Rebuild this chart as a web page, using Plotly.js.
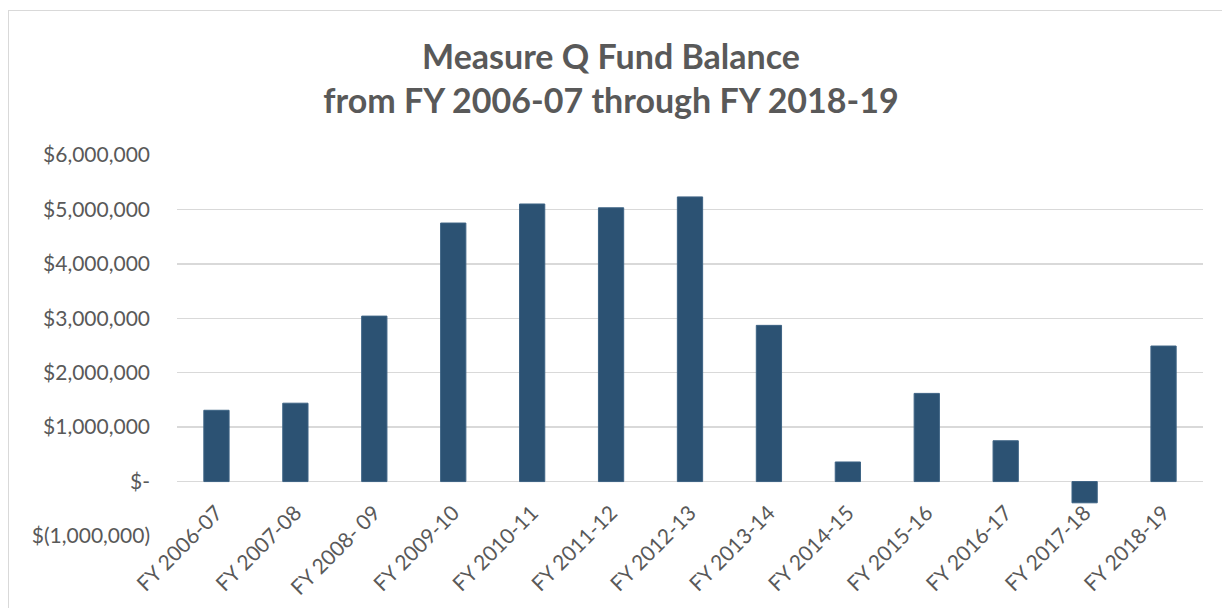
<!DOCTYPE html>
<html>
<head>
<meta charset="utf-8">
<script src="https://cdn.plot.ly/plotly-3.0.1.min.js"></script>
<style>
  html, body { margin: 0; padding: 0; background: #fff; overflow: hidden; }
  #frame { position: absolute; left: 8px; top: 10px; width: 1240px; height: 620px; border: 1px solid #d9d9d9; box-sizing: border-box; }
  #chart { position: absolute; left: 0; top: 0; width: 1222px; height: 608px; }
</style>
</head>
<body>
<div id="frame"></div>
<div id="chart"></div>
<script>
const categories = ["FY 2006-07", "FY 2007-08", "FY 2008- 09", "FY 2009-10", "FY 2010-11", "FY 2011-12", "FY 2012-13", "FY 2013-14", "FY 2014-15", "FY 2015-16", "FY 2016-17", "FY 2017-18", "FY 2018-19"];
const fundBalance = [1310000, 1440000, 3040000, 4750000, 5100000, 5030000, 5230000, 2870000, 360000, 1620000, 750000, -390000, 2490000];
const yTickVals = [-1000000, 0, 1000000, 2000000, 3000000, 4000000, 5000000, 6000000];
const yTickText = ["$(1,000,000)", "$-", "$1,000,000", "$2,000,000", "$3,000,000", "$4,000,000", "$5,000,000", "$6,000,000"];
const yRange = [-1000000, 6000000];

const fontFam = "Lato, 'Open Sans', sans-serif";
const gray = "#595959";

const trace = {
  type: "bar",
  x: categories,
  y: fundBalance,
  marker: { color: "#2c5273", line: { color: "#3d6384", width: 1 } },
  hoverinfo: "x+y"
};

const layout = {
  width: 1222,
  height: 608,
  paper_bgcolor: "rgba(0,0,0,0)",
  plot_bgcolor: "rgba(0,0,0,0)",
  margin: { l: 177, r: 19, t: 155, b: 72 },
  showlegend: false,
  bargap: 0.68,
  title: {
    text: "<b>Measure Q Fund Balance<br>from FY 2006-07 through FY 2018-19</b>",
    font: { family: fontFam, size: 34, color: gray },
    x: 0.5, xanchor: "center", xref: "container",
    y: 1 - 69 / 608, yanchor: "middle", yref: "container"
  },
  xaxis: {
    type: "category",
    tickangle: -45,
    showgrid: false,
    showline: false,
    zeroline: false,
    ticks: "",
    anchor: "free",
    position: (0 - yRange[0]) / (yRange[1] - yRange[0]),
    ticklabelstandoff: 14,
    tickfont: { family: fontFam, size: 21, color: gray }
  },
  yaxis: {
    range: yRange,
    tickvals: yTickVals,
    ticktext: yTickText,
    showgrid: true,
    gridcolor: "#d9d9d9",
    gridwidth: 1.5,
    zeroline: true,
    zerolinecolor: "#d9d9d9",
    zerolinewidth: 1.5,
    showline: false,
    ticks: "",
    ticklabelstandoff: 26,
    tickfont: { family: fontFam, size: 21, color: gray }
  }
};

Plotly.newPlot("chart", [trace], layout, { displayModeBar: false, staticPlot: true });
</script>
</body>
</html>
